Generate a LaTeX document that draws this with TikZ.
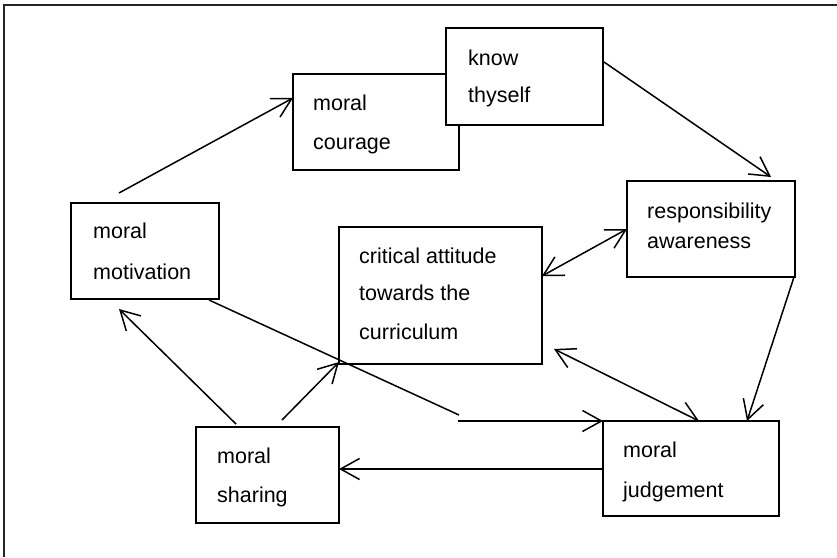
\documentclass[tikz,border=0pt]{standalone}
\usepackage{fontspec}
\setmainfont{Liberation Sans}
\usetikzlibrary{arrows.meta,calc}
\begin{document}
\begin{tikzpicture}[x=1pt,y=-1pt,
  box/.style={draw=black,line width=1.8pt,fill=white,anchor=north west,inner sep=0pt,outer sep=0pt},
  txt/.style={anchor=base west,inner sep=0pt,font=\fontsize{21.5}{26}\selectfont},
  conn/.style={draw=black,line width=1.5pt},
  >={Straight Barb[length=19pt,width=21pt,line width=1.5pt]}]
\useasboundingbox (0,0) rectangle (837,557);
% frame (only top and left edges visible)
\draw[line width=1.8pt,black!85] (837,5) -- (4,5) -- (4,557);
% boxes
\node[box,minimum width=166pt,minimum height=96pt] (cour) at (293,74) {};
\node[box,minimum width=157pt,minimum height=97pt] (know) at (446,28) {};
\node[box,minimum width=148pt,minimum height=96pt] (motiv) at (71,203) {};
\node[box,minimum width=203pt,minimum height=137pt] (crit) at (339,227) {};
\node[box,minimum width=168pt,minimum height=96pt] (resp) at (627,181) {};
\node[box,minimum width=143pt,minimum height=96pt] (shar) at (196,427) {};
\node[box,minimum width=176pt,minimum height=95pt] (judg) at (603,421) {};
% texts
\node[txt] (tcour1) at (313,110) {moral};
\node[txt] (tcour2) at (313,149) {courage};
\node[txt] (tknow1) at (468,65) {know};
\node[txt] (tknow2) at (468,102) {thyself};
\node[txt] (tmotiv1) at (93,238) {moral};
\node[txt] (tmotiv2) at (93,279) {motivation};
\node[txt] (tcrit1) at (359,263) {critical attitude};
\node[txt] (tcrit2) at (359,300) {towards the};
\node[txt] (tcrit3) at (359,339) {curriculum};
\node[txt] (tresp1) at (647,218) {responsibility};
\node[txt] (tresp2) at (647,248) {awareness};
\node[txt] (tshar1) at (217,463) {moral};
\node[txt] (tshar2) at (217,502) {sharing};
\node[txt] (tjudg1) at (623,457) {moral};
\node[txt] (tjudg2) at (623,497) {judgement};
% connectors
\draw[conn,->] ($(motiv.north west)+(48,-10)$) -- ($(cour.north west)+(0,24)$);
\draw[conn,->] ($(know.north east)+(1,34)$) -- ($(resp.north west)+(144,-4)$);
\draw[conn,<->] ($(crit.north east)+(0,49)$) -- ($(resp.north west)+(0,48)$);
\draw[conn,->] ($(resp.south east)+(-1,0)$) -- ($(judg.north west)+(144,0)$);
\draw[conn,<->] ($(crit.north east)+(12,122)$) -- ($(judg.north west)+(96,0)$);
\coordinate (bend1) at (459,415);
\coordinate (bend2) at (458,421);
\draw[conn] ($(motiv.south east)+(-10,1)$) -- (bend1);
\draw[conn,->] (bend2) -- (judg.north west);
\draw[conn,->] ($(judg.north west)+(0,48)$) -- ($(shar.north east)+(0,42)$);
\draw[conn,->] ($(shar.north west)+(40,-3)$) -- ($(motiv.south west)+(48,10)$);
\draw[conn,->] ($(shar.north west)+(86,-7)$) -- ($(crit.south west)+(0,-2)$);
\end{tikzpicture}
\end{document}
